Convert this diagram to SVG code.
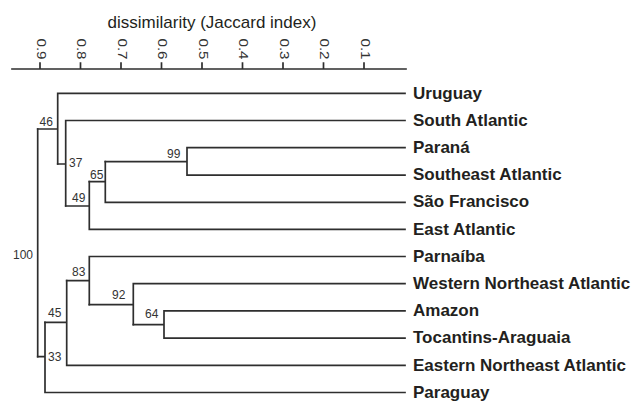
<svg xmlns="http://www.w3.org/2000/svg" width="644" height="402" viewBox="0 0 644 402">
<style>
.ln{fill:none;stroke:#2e2e2e;stroke-width:1.7;stroke-linecap:square}
.leaf{font-family:"Liberation Sans",Arial,sans-serif;font-weight:bold;font-size:17px;fill:#231f20}
.bs{font-family:"Liberation Sans",Arial,sans-serif;font-size:12px;fill:#333}
.tk{font-family:"Liberation Sans",Arial,sans-serif;font-size:12px;fill:#333}
.ttl{font-family:"Liberation Sans",Arial,sans-serif;font-size:17px;fill:#231f20}
</style>
<rect width="644" height="402" fill="#fff"/>
<g id="axis">
<text class="ttl" x="212" y="28" text-anchor="middle">dissimilarity (Jaccard index)</text>
<path class="ln" d="M12 69H406M40 63V69M80.5 63V69M121 63V69M161.5 63V69M202 63V69M242.5 63V69M283 63V69M323.5 63V69M364 63V69"/>
<text class="tk" transform="translate(36.5 38.5) rotate(90)" textLength="21" lengthAdjust="spacingAndGlyphs">0.9</text>
<text class="tk" transform="translate(77 38.5) rotate(90)" textLength="21" lengthAdjust="spacingAndGlyphs">0.8</text>
<text class="tk" transform="translate(117.5 38.5) rotate(90)" textLength="21" lengthAdjust="spacingAndGlyphs">0.7</text>
<text class="tk" transform="translate(158 38.5) rotate(90)" textLength="21" lengthAdjust="spacingAndGlyphs">0.6</text>
<text class="tk" transform="translate(198.5 38.5) rotate(90)" textLength="21" lengthAdjust="spacingAndGlyphs">0.5</text>
<text class="tk" transform="translate(239 38.5) rotate(90)" textLength="21" lengthAdjust="spacingAndGlyphs">0.4</text>
<text class="tk" transform="translate(279.5 38.5) rotate(90)" textLength="21" lengthAdjust="spacingAndGlyphs">0.3</text>
<text class="tk" transform="translate(320 38.5) rotate(90)" textLength="21" lengthAdjust="spacingAndGlyphs">0.2</text>
<text class="tk" transform="translate(360.5 38.5) rotate(90)" textLength="21" lengthAdjust="spacingAndGlyphs">0.1</text>
</g>
<g id="connectors">
<path class="ln" d="M37.7 129V356.7"/>
<path class="ln" d="M37.7 129H57.7M57.7 93.3V164M57.7 93.3H405"/>
<path class="ln" d="M57.7 164H65.7M65.7 120.5V206M65.7 120.5H405"/>
<path class="ln" d="M65.7 206H89.3M89.3 181.7V229.3M89.3 229.3H405"/>
<path class="ln" d="M89.3 181.7H105.3M105.3 161.7V202.3M105.3 202.3H405"/>
<path class="ln" d="M105.3 161.7H187M187 147.7V175.1M187 147.7H405M187 175.1H405"/>
<path class="ln" d="M37.7 356.7H45M45 322.3V392.5M45 392.5H405"/>
<path class="ln" d="M45 322.3H66.7M66.7 280.7V365.3M66.7 365.3H405"/>
<path class="ln" d="M66.7 280.7H89.3M89.3 256.5V304.7M89.3 256.5H405"/>
<path class="ln" d="M89.3 304.7H133.3M133.3 283.7V324.7M133.3 283.7H405"/>
<path class="ln" d="M133.3 324.7H164M164 310.9V338.1M164 310.9H405M164 338.1H405"/>
</g>
<g id="support">
<text class="bs" x="13" y="259">100</text>
<text class="bs" x="39.5" y="126">46</text>
<text class="bs" x="69" y="167">37</text>
<text class="bs" x="72" y="202">49</text>
<text class="bs" x="90" y="179">65</text>
<text class="bs" x="167" y="158">99</text>
<text class="bs" x="48" y="361">33</text>
<text class="bs" x="48" y="317">45</text>
<text class="bs" x="72" y="276">83</text>
<text class="bs" x="112" y="299">92</text>
<text class="bs" x="145" y="318">64</text>
</g>
<g id="n-uruguay"><text class="leaf" x="413" y="98.5">Uruguay</text></g>
<g id="n-south-atlantic"><text class="leaf" x="413" y="125.7">South Atlantic</text></g>
<g id="n-parana"><text class="leaf" x="413" y="152.9">Paraná</text></g>
<g id="n-southeast-atlantic"><text class="leaf" x="413" y="180.1">Southeast Atlantic</text></g>
<g id="n-sao-francisco"><text class="leaf" x="413" y="207.3">São Francisco</text></g>
<g id="n-east-atlantic"><text class="leaf" x="413" y="234.5">East Atlantic</text></g>
<g id="n-parnaiba"><text class="leaf" x="413" y="261.7">Parnaíba</text></g>
<g id="n-western-ne-atlantic"><text class="leaf" x="413" y="288.9">Western Northeast Atlantic</text></g>
<g id="n-amazon"><text class="leaf" x="413" y="316.1">Amazon</text></g>
<g id="n-tocantins"><text class="leaf" x="413" y="343.3">Tocantins-Araguaia</text></g>
<g id="n-eastern-ne-atlantic"><text class="leaf" x="413" y="370.5">Eastern Northeast Atlantic</text></g>
<g id="n-paraguay"><text class="leaf" x="413" y="397.7">Paraguay</text></g>
</svg>
